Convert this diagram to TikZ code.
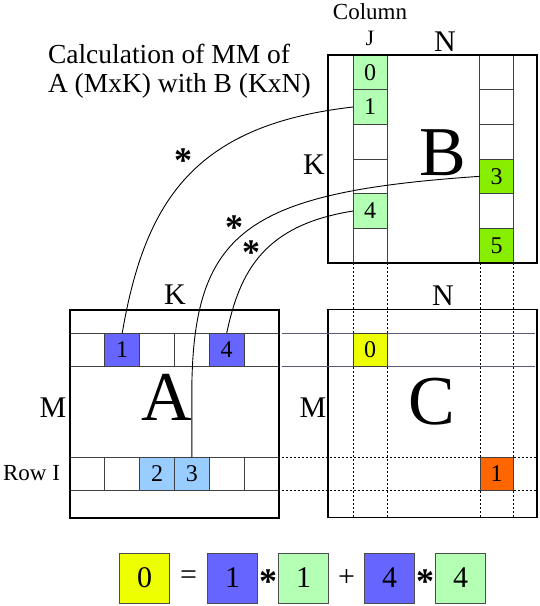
\documentclass[tikz,border=0pt]{standalone}
\usepackage{fontspec}
\setmainfont{Liberation Serif}
\definecolor{CellBlue}{HTML}{6666FF}
\definecolor{CellSky}{HTML}{99CCFF}
\definecolor{CellMint}{HTML}{B3FFB3}
\definecolor{CellLime}{HTML}{88EE00}
\definecolor{CellYellow}{HTML}{EEFF00}
\definecolor{CellOrange}{HTML}{FF6600}
\definecolor{GuideGray}{HTML}{5A5A78}
\usetikzlibrary{positioning,calc}

\begin{document}
\begin{tikzpicture}[
  x=1pt,y=-1pt,
  every node/.style={inner sep=0pt,outer sep=0pt},
  mat/.style={draw=black,line width=1.2pt,minimum width=209pt,minimum height=208pt},
  cellh/.style={draw=black!75,line width=0.8pt,minimum width=34.83pt,minimum height=33pt,font=\fontsize{24}{24}\selectfont},
  cellv/.style={draw=black!75,line width=0.8pt,minimum width=34pt,minimum height=34.67pt,font=\fontsize{24}{24}\selectfont},
  big/.style={font=\fontsize{70}{70}\selectfont},
  lbl/.style={font=\fontsize{30}{30}\selectfont},
  star/.style={font=\fontsize{36}{36}\selectfont\bfseries},
  eqbox/.style={draw=black!70,line width=0.8pt,minimum size=50pt,font=\fontsize{30}{30}\selectfont},
  guide/.style={GuideGray,line width=0.8pt},
  grid/.style={black,line width=0.8pt,dash pattern=on 2pt off 2pt},
  link/.style={black,line width=0.9pt}
]
\useasboundingbox (0,0) rectangle (540,606);

\node[anchor=base west,font=\fontsize{27.5}{30}\selectfont] (title1) at (48,63) {Calculation of MM of};
\node[anchor=base west,font=\fontsize{27.5}{30}\selectfont] (title2) at (48,92) {A (MxK) with B (KxN)};

% matrix B
\foreach \j/\c/\t in {1/CellMint/0,2/CellMint/1,3/white/,4/white/,5/CellMint/4,6/white/}
  \node[cellv,fill=\c] (bj\j) at (370,{55+34.67*(\j-0.5)}) {\t};
\foreach \j/\c/\t in {1/white/,2/white/,3/white/,4/CellLime/3,5/white/,6/CellLime/5}
  \node[cellv,fill=\c] (bn\j) at (496.5,{55+34.67*(\j-0.5)}) {\t};
\node[mat] (B) at (432.5,159) {};
\node[big] (bname) at (443,153) {B};
\node[font=\fontsize{23}{23}\selectfont] (col) at (370,12) {Column};
\node[font=\fontsize{22}{22}\selectfont] (jname) at (370,38) {J};
\node[lbl] (bn) at (445,42) {N};
\node[lbl] (bk) at (314,165) {K};

% matrix A
\foreach \i/\c/\t in {1/white/,2/CellBlue/1,3/white/,4/white/,5/CellBlue/4,6/white/}
  \node[cellh,fill=\c] (ak\i) at ({70+34.83*(\i-0.5)},349.5) {\t};
\foreach \i/\c/\t in {1/white/,2/white/,3/CellSky/2,4/CellSky/3,5/white/,6/white/}
  \node[cellh,fill=\c] (ai\i) at ({70+34.83*(\i-0.5)},473.5) {\t};
\node[mat] (A) at (174.5,414) {};
\node[big] (aname) at (167,397) {A};
\node[lbl] (ak) at (175,295) {K};
\node[lbl] (am) at (53,408) {M};
\node[anchor=east,font=\fontsize{23}{23}\selectfont] (rowi) at (60,473) {Row I};

% matrix C
\node[mat] (C) at (432.5,413.5) {};
\draw[guide] (282,333) -- (535,333);
\draw[guide] (282,366) -- (535,366);
\draw[grid] (282,457) -- (537,457);
\draw[grid] (282,490) -- (537,490);
\foreach \x in {353,387,480,513}
  \draw[grid] (\x,263) -- (\x,518);
\node[cellv,minimum height=33pt,fill=CellYellow] (c0) at (370,349.5) {0};
\node[cellv,minimum height=33pt,minimum width=33pt,fill=CellOrange] (c1) at (496.5,473.5) {1};
\node[big] (cname) at (432,402) {C};
\node[lbl] (cn) at (443,296) {N};
\node[lbl] (cm) at (313,408) {M};

% products
\draw[link] (ak2.north) .. controls (145,200) and (195,125) .. (bj2.west);
\draw[link] (ai4.north) -- ++(0,-75) .. controls (195,230) and (250,192) .. (bn4.west);
\draw[link] (ak5.north) .. controls (240,270) and (265,225) .. (bj5.west);
\node[star] (s1) at (183,161) {*};
\node[star] (s2) at (234,228) {*};
\node[star] (s3) at (251,253) {*};

% sum
\node[eqbox,fill=CellYellow] (e0) at (144.5,578) {0};
\node[eqbox,fill=CellBlue,right=38pt of e0] (e1) {1};
\node[eqbox,fill=CellMint,right=21pt of e1] (e2) {1};
\node[eqbox,fill=CellBlue,right=36pt of e2] (e3) {4};
\node[eqbox,fill=CellMint,right=21pt of e3] (e4) {4};
\node[lbl] (eq) at ($(e0.east)!0.5!(e1.west)$) {=};
\node[star] (m1) at ($(e1.east)!0.5!(e2.west)+(0,4)$) {*};
\node[lbl] (plus) at ($(e2.east)!0.5!(e3.west)$) {+};
\node[star] (m2) at ($(e3.east)!0.5!(e4.west)+(0,4)$) {*};
\end{tikzpicture}
\end{document}
